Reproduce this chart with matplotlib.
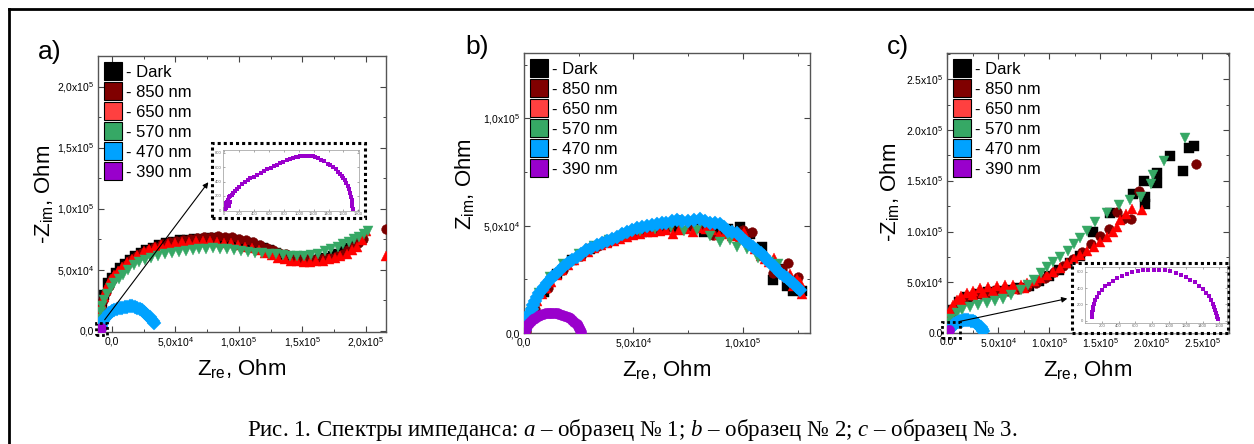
import numpy as np
import matplotlib
matplotlib.use('Agg')
import matplotlib.pyplot as plt
from matplotlib.lines import Line2D
from matplotlib.patches import Rectangle, FancyArrowPatch
from matplotlib.ticker import MultipleLocator, FuncFormatter

plt.rcParams['font.family'] = ['Liberation Sans', 'DejaVu Sans']
plt.rcParams['mathtext.fontset'] = 'custom'
plt.rcParams['mathtext.rm'] = 'Liberation Sans'
plt.rcParams['mathtext.it'] = 'Liberation Serif:italic'

W, H = 1254, 444

# ---- data (x, y in units of 1e4 Ohm) ----
series = ['- Dark', '- 850 nm', '- 650 nm', '- 570 nm', '- 470 nm', '- 390 nm']
colors = ['#000000', '#7a0000', '#ff0000', '#36a865', '#00a2ff', '#9a00cc']
legend_colors = ['#000000', '#800000', '#ff4040', '#36a865', '#00a2ff', '#9900cc']
markers = ['s', 'o', '^', 'v', 'D', 'o']

# panel a
a_dark_x = [-0.95, -0.8, -0.6, -0.3, 0.0, 0.3, 0.65, 1.0, 1.4, 1.8, 2.25, 2.7, 3.2, 3.7, 4.25, 4.8, 5.35, 5.9, 6.45, 7.0,
            7.55, 8.1, 8.65, 9.2, 9.75, 10.3, 10.85, 11.4, 11.9, 12.4, 12.9, 13.4, 13.9, 14.4, 14.9, 15.4, 15.9, 16.4, 16.9,
            17.4, 17.85, 18.3, 18.7, 19.1, 19.4, 19.7]
a_dark_y = [1.6, 2.3, 2.9, 3.9, 4.3, 4.7, 5.1, 5.5, 5.8, 6.1, 6.35, 6.6, 6.8, 7.0, 7.15, 7.3, 7.4, 7.45, 7.5, 7.55,
            7.58, 7.6, 7.55, 7.5, 7.4, 7.3, 7.15, 6.95, 6.8, 6.6, 6.4, 6.2, 6.05, 5.9, 5.85, 5.8, 5.8, 5.85, 5.95,
            6.1, 6.3, 6.5, 6.8, 7.1, 7.35, 7.6]
a_850_x = [-0.9, -0.7, -0.5, -0.25, 0.0, 0.35, 0.7, 1.1, 1.5, 1.95, 2.4, 2.9, 3.4, 3.95, 4.5, 5.05, 5.6, 6.15, 6.7, 7.25,
           7.8, 8.35, 8.9, 9.45, 10.0, 10.55, 11.1, 11.65, 12.2, 12.7, 13.2, 13.7, 14.2, 14.7, 15.2, 15.7, 16.2, 16.7, 17.2,
           17.7, 18.2, 18.6, 19.0, 19.4, 19.8, 21.6]
a_850_y = [1.8, 2.5, 3.2, 3.7, 4.2, 4.6, 5.0, 5.4, 5.8, 6.1, 6.4, 6.65, 6.9, 7.1, 7.25, 7.35, 7.45, 7.55, 7.6, 7.65,
           7.7, 7.72, 7.7, 7.65, 7.55, 7.4, 7.25, 7.05, 6.8, 6.6, 6.4, 6.25, 6.1, 6.0, 5.95, 5.9, 5.9, 5.95, 6.0,
           6.15, 6.3, 6.6, 6.9, 7.2, 7.5, 8.3]
a_650_x = [-1.0, -0.9, -0.8, -0.65, -0.5, -0.3, -0.1, 0.2, 0.5, 0.8, 1.2, 1.6, 2.0, 2.5, 2.9, 3.4, 3.9, 4.4, 5.0, 5.5,
           6.1, 6.6, 7.2, 7.7, 8.3, 8.8, 9.4, 9.9, 10.5, 11.0, 11.6, 12.1, 12.6, 13.1, 13.6, 14.1, 14.6, 15.1, 15.6, 16.1,
           16.6, 17.1, 17.6, 18.0, 18.5, 18.9, 19.3, 19.7, 20.05, 21.6]
a_650_y = [1.2, 1.7, 2.2, 2.8, 3.3, 3.8, 4.2, 4.6, 4.9, 5.25, 5.6, 5.9, 6.2, 6.5, 6.7, 6.85, 7.0, 7.1, 7.2, 7.25,
           7.3, 7.32, 7.35, 7.33, 7.3, 7.22, 7.15, 7.05, 6.9, 6.75, 6.6, 6.4, 6.2, 6.0, 5.85, 5.75, 5.7, 5.65, 5.65, 5.7,
           5.75, 5.85, 5.95, 6.1, 6.3, 6.6, 6.9, 7.4, 8.2, 6.1]
a_570_x = [-1.0, -0.9, -0.8, -0.6, -0.4, -0.1, 0.2, 0.55, 0.9, 1.3, 1.7, 2.15, 2.6, 3.1, 3.6, 4.15, 4.7, 5.25, 5.8, 6.35,
           6.9, 7.45, 8.0, 8.55, 9.1, 9.65, 10.2, 10.75, 11.3, 11.85, 12.4, 12.95, 13.5, 14.05, 14.6, 15.15, 15.7, 16.25,
           16.8, 17.3, 17.8, 18.25, 18.7, 19.1, 19.5, 19.85, 20.2]
a_570_y = [1.0, 1.5, 2.0, 2.5, 3.0, 3.5, 3.9, 4.25, 4.6, 5.0, 5.4, 5.6, 5.8, 5.95, 6.1, 6.25, 6.35, 6.45, 6.55, 6.62,
           6.7, 6.72, 6.75, 6.73, 6.7, 6.62, 6.55, 6.48, 6.4, 6.35, 6.3, 6.25, 6.2, 6.15, 6.15, 6.15, 6.2, 6.3,
           6.5, 6.7, 6.9, 7.1, 7.3, 7.5, 7.7, 7.95, 8.2]
a_470_x = [-0.85, -0.78, -0.7, -0.6, -0.5, -0.35, -0.2, 0.0, 0.2, 0.4, 0.6, 0.8, 1.0, 1.2, 1.4, 1.6, 1.8, 2.0, 2.2, 2.4,
           2.55, 2.7, 2.85, 3.0, 3.1, 3.2, 3.3]
a_470_y = [0.4, 0.6, 0.8, 0.98, 1.15, 1.3, 1.45, 1.58, 1.7, 1.78, 1.85, 1.9, 1.95, 1.98, 2.0, 1.99, 1.95, 1.88, 1.8, 1.68,
           1.55, 1.4, 1.25, 1.1, 0.95, 0.8, 0.65]
a_390_x = [-0.95, -0.9]
a_390_y = [0.1, 0.25]

# panel b
b_dark_x = [0.1, 0.4, 0.9, 1.5, 2.2, 3.0, 3.8, 4.6, 5.4, 6.2, 7.0, 7.8, 8.2, 8.7, 9.3, 9.86, 10.3, 10.85, 11.38, 11.7, 12.0, 12.3, 12.68]
b_dark_y = [0.1, 1.0, 1.9, 2.75, 3.4, 3.9, 4.25, 4.5, 4.7, 4.8, 4.9, 5.0, 4.69, 4.9, 4.85, 4.95, 4.6, 4.02, 2.47, 3.0, 2.2, 1.95, 1.95]
b_850_x = [0.1, 0.5, 1.1, 1.8, 2.6, 3.4, 4.2, 5.0, 5.8, 6.6, 7.1, 7.6, 8.2, 8.65, 9.1, 9.6, 10.0, 10.4, 10.9, 11.38, 11.8, 12.07, 12.5]
b_850_y = [0.1, 1.1, 2.1, 2.95, 3.6, 4.05, 4.4, 4.65, 4.8, 4.95, 5.27, 5.0, 4.9, 4.58, 4.8, 4.7, 4.8, 4.7, 3.6, 2.78, 3.0, 3.25, 2.6]
b_650_x = [0.1, 0.2, 0.3, 0.45, 0.6, 0.8, 1.0, 1.25, 1.5, 1.75, 2.0, 2.3, 2.6, 2.9, 3.2, 3.5, 3.8, 4.1, 4.4, 4.7,
           5.0, 5.3, 5.6, 5.9, 6.2, 6.5, 6.8, 7.1, 7.4, 7.7, 8.0, 8.3, 8.6, 8.9, 9.2, 9.5, 9.8, 10.05, 10.3, 10.55,
           10.8, 11.0, 11.2, 11.4, 11.6, 11.8, 12.0, 12.15, 12.3, 12.45, 12.6, 12.7]
b_650_y = [0.1, 0.45, 0.8, 1.15, 1.5, 1.8, 2.1, 2.4, 2.7, 2.93, 3.15, 3.38, 3.6, 3.78, 3.95, 4.08, 4.2, 4.3, 4.4, 4.48,
           4.55, 4.63, 4.7, 4.72, 4.75, 4.78, 4.6, 4.82, 4.85, 4.7, 4.9, 4.85, 4.8, 4.55, 4.6, 4.5, 4.4, 4.7, 4.25, 3.9,
           3.6, 3.45, 3.3, 3.5, 3.0, 2.8, 2.6, 2.75, 2.2, 2.5, 2.4, 1.8]
b_570_x = [0.05, 0.3, 0.7, 1.2, 1.8, 2.5, 3.2, 3.9, 4.6, 5.3, 6.0, 6.7, 7.3, 7.9, 8.5, 8.95, 9.4, 9.71, 10.2, 10.7, 11.2, 11.6]
b_570_y = [0.2, 1.0, 1.85, 2.6, 3.2, 3.7, 4.05, 4.35, 4.6, 4.75, 4.85, 4.95, 4.75, 4.8, 4.5, 4.25, 4.35, 4.02, 3.9, 3.5, 3.3, 3.2]
b_470_x = [0.05, 0.1, 0.15, 0.2, 0.27, 0.35, 0.42, 0.5, 0.58, 0.68, 0.8, 0.92, 1.04, 1.17, 1.3, 1.47, 1.64, 1.82, 2.0, 2.2,
           2.4, 2.62, 2.85, 3.08, 3.32, 3.56, 3.8, 4.0, 4.23, 4.46, 4.7, 4.92, 5.14, 5.37, 5.6, 5.83, 6.06, 6.28, 6.5, 6.74,
           6.97, 7.23, 7.5, 7.77, 8.04, 8.27, 8.5, 8.72, 8.95, 9.12, 9.3, 9.5, 9.71, 9.9, 10.1, 10.28, 10.47, 10.63, 10.8,
           10.94, 11.08, 11.24, 11.4, 11.55, 11.69, 11.85, 12.0, 12.15, 12.3, 12.45, 12.6]
b_470_y = [0.14, 0.3, 0.5, 0.7, 0.92, 1.1, 1.3, 1.5, 1.69, 1.85, 2.0, 2.16, 2.32, 2.46, 2.6, 2.77, 2.94, 3.1, 3.25, 3.4,
           3.56, 3.7, 3.85, 3.98, 4.1, 4.2, 4.3, 4.4, 4.49, 4.6, 4.7, 4.79, 4.88, 4.94, 5.0, 5.04, 5.08, 5.12, 5.15, 5.21,
           5.27, 5.24, 5.2, 5.25, 5.3, 5.22, 5.15, 5.12, 5.08, 4.92, 4.75, 4.7, 4.64, 4.47, 4.3, 4.16, 4.02, 3.88, 3.75,
           3.58, 3.4, 3.25, 3.1, 2.94, 2.78, 2.66, 2.55, 2.44, 2.32, 2.16, 2.0]
b_390_x = [0.05, 0.1, 0.15, 0.22, 0.3, 0.4, 0.5, 0.62, 0.75, 0.88, 1.0, 1.12, 1.25, 1.38, 1.5, 1.62, 1.75, 1.88, 2.0, 2.1,
           2.2, 2.3, 2.4, 2.47, 2.52, 2.57, 2.6]
b_390_y = [0.1, 0.22, 0.35, 0.45, 0.55, 0.64, 0.72, 0.79, 0.85, 0.89, 0.92, 0.93, 0.94, 0.93, 0.92, 0.89, 0.85, 0.8, 0.75,
           0.68, 0.6, 0.51, 0.42, 0.32, 0.22, 0.13, 0.05]

# panel c
c_dark_x = [0.05, 0.5, 1.2, 2.0, 3.0, 4.0, 5.0, 6.0, 7.0, 8.0, 9.0, 10.0, 11.0, 12.0, 13.0, 14.3, 15.97, 18.2, 19.3, 19.4, 19.4,
            20.6, 20.6, 21.8, 23.1, 23.7, 24.2]
c_dark_y = [1.0, 2.3, 3.1, 3.55, 3.85, 4.0, 4.15, 4.25, 4.4, 4.65, 5.1, 5.6, 6.2, 6.9, 7.6, 9.97, 11.84, 13.7, 15.0, 13.4, 12.7,
            14.8, 15.8, 17.4, 16.0, 18.2, 18.4]
c_850_x = [0.05, 0.4, 0.9, 1.6, 2.4, 3.3, 4.2, 5.1, 6.0, 6.9, 7.8, 8.7, 9.6, 10.5, 11.4, 12.3, 13.2, 14.1, 15.0, 15.9, 16.6,
           17.2, 18.0, 18.8, 24.4]
c_850_y = [0.9, 2.0, 2.8, 3.3, 3.6, 3.8, 3.95, 4.05, 4.15, 4.3, 4.5, 4.9, 5.4, 6.0, 6.6, 7.3, 8.0, 8.8, 9.6, 10.3, 11.9,
           11.2, 11.2, 14.0, 16.7]
c_650_x = [0.03, 0.15, 0.29, 0.6, 0.95, 1.4, 1.93, 2.5, 3.23, 4.0, 4.87, 5.7, 6.5, 7.2, 7.81, 8.5, 9.11, 9.8, 10.42, 11.1,
           11.73, 12.4, 13.03, 13.7, 14.34, 15.0, 15.65, 16.2, 16.63, 16.95, 17.5, 18.1, 19.08,
           1.5, 2.5, 3.5, 4.5, 5.5, 6.5, 7.5]
c_650_y = [1.11, 1.7, 2.26, 2.8, 3.25, 3.6, 3.9, 4.15, 4.4, 4.5, 4.62, 4.7, 4.72, 4.75, 4.89, 5.1, 5.38, 5.7, 6.03, 6.45,
           6.86, 7.25, 7.68, 8.1, 8.5, 8.95, 9.48, 10.0, 10.46, 11.12, 11.7, 12.27, 12.17,
           3.2, 3.7, 3.95, 4.1, 4.2, 4.3, 4.45]
c_570_x = [0.05, 0.13, 0.4, 0.95, 1.5, 2.25, 3.0, 3.9, 4.7, 5.5, 6.3, 7.2, 7.9, 8.5, 9.2, 9.8, 10.4, 11.1, 11.8, 12.4, 13.0,
           13.7, 14.5, 15.7, 16.8, 17.9, 19.0, 19.96, 20.2, 21.2, 23.3]
c_570_y = [0.5, 0.95, 1.4, 1.94, 2.3, 2.59, 2.8, 2.92, 3.15, 3.4, 3.7, 4.23, 4.7, 5.2, 5.9, 6.5, 7.0, 7.5, 8.1, 8.8, 9.4,
           10.1, 10.95, 11.8, 12.6, 13.1, 13.4, 14.66, 15.55, 16.95, 19.26]
c_470_x = [0.2, 0.35, 0.5, 0.7, 0.9, 1.1, 1.3, 1.5, 1.7, 1.9, 2.1, 2.3, 2.5, 2.7, 2.85, 3.0, 3.15, 3.3, 3.4, 3.5]
c_470_y = [0.3, 0.5, 0.7, 0.85, 0.95, 1.05, 1.15, 1.2, 1.25, 1.27, 1.25, 1.2, 1.15, 1.05, 0.95, 0.83, 0.7, 0.55, 0.4, 0.2]
c_390_x = [0.1, 0.2]
c_390_y = [0.1, 0.25]

# insets (Ohm)
ins_a_x = [10, 15, 20, 25, 30, 40, 50, 55, 60, 70, 80, 100, 120, 140, 170, 200, 235, 270, 310, 350, 395, 440, 485, 530, 575,
           620, 660, 700, 745, 790, 835, 880, 920, 960, 990, 1020, 1055, 1090, 1125, 1160, 1190, 1220, 1260, 1300, 1345,
           1390, 1425, 1460, 1495, 1530, 1555, 1580, 1600, 1620, 1640, 1660, 1680, 1695, 1705, 1712, 1718, 1722, 1725]
ins_a_y = [20, 60, 100, 30, 80, 120, 150, 60, 180, 110, 200, 215, 240, 270, 300, 330, 360, 390, 420, 445, 470, 495, 520, 545,
           570, 595, 615, 635, 655, 675, 695, 715, 728, 740, 748, 755, 758, 762, 760, 757, 750, 740, 725, 705, 680, 650,
           625, 600, 570, 540, 510, 480, 450, 420, 380, 340, 290, 240, 190, 150, 100, 60, 15]
ins_c_x = [80, 82, 85, 90, 95, 105, 120, 140, 170, 200, 240, 285, 330, 385, 440, 500, 560, 625, 690, 755, 820, 885, 950,
           1015, 1080, 1140, 1200, 1255, 1310, 1355, 1400, 1440, 1470, 1500, 1520, 1540, 1550, 1560, 1570, 1575, 1580]
ins_c_y = [40, 70, 100, 135, 170, 210, 250, 295, 340, 380, 420, 455, 490, 520, 550, 575, 595, 610, 620, 625, 625, 622, 618,
           605, 590, 565, 540, 505, 470, 430, 390, 345, 300, 255, 210, 170, 130, 95, 60, 40, 20]

panels = {
    'a': [(a_dark_x, a_dark_y), (a_850_x, a_850_y), (a_650_x, a_650_y), (a_570_x, a_570_y), (a_470_x, a_470_y), (a_390_x, a_390_y)],
    'b': [(b_dark_x, b_dark_y), (b_850_x, b_850_y), (b_650_x, b_650_y), (b_570_x, b_570_y), (b_470_x, b_470_y), (b_390_x, b_390_y)],
    'c': [(c_dark_x, c_dark_y), (c_850_x, c_850_y), (c_650_x, c_650_y), (c_570_x, c_570_y), (c_470_x, c_470_y), (c_390_x, c_390_y)],
}


def fbox(x0, y0, x1, y1):
    # pixel box (top-left origin) -> figure coords [l, b, w, h]
    return [x0 / W, 1 - y1 / H, (x1 - x0) / W, (y1 - y0) / H]


def fpt(x, y):
    return (x / W, 1 - y / H)


def sci(sep):
    def f(v, pos):
        if abs(v) < 1:
            return '0' + sep + '0'
        e = int(np.floor(np.log10(abs(v)) + 1e-9))
        m = ('%.1f' % (v / 10 ** e)).replace('.', sep)
        return m + r'x10$^{\mathregular{%d}}$' % e
    return f


fig = plt.figure(figsize=(W / 100, H / 100), dpi=100)

cfg = {
    'a': dict(box=(98, 56, 386, 332), xlim=(-1.1e4, 2.16e5), ylim=(-1e3, 2.25e5), sep=',',
              ylab='-Z$_{\\mathregular{im}}$, Ohm', ylx=-0.151, yly=0.5, xly=-0.089, letter=(38, 52)),
    'b': dict(box=(524, 53, 810, 333), xlim=(0, 1.306e5), ylim=(0, 1.305e5), sep=',',
              ylab='Z$_{\\mathregular{im}}$, Ohm', ylx=-0.168, yly=0.532, xly=-0.0875, letter=(465, 47)),
    'c': dict(box=(947, 53, 1229, 333), xlim=(0, 2.76e5), ylim=(0, 2.76e5), sep='.',
              ylab='-Z$_{\\mathregular{im}}$, Ohm', ylx=-0.163, yly=0.501, xly=-0.0875, letter=(887, 47)),
}

for key in ['a', 'b', 'c']:
    c = cfg[key]
    ax = fig.add_axes(fbox(*c['box']))
    for i, (xs, ys) in enumerate(panels[key]):
        ms = 7 if i < 5 else 7.5
        ax.plot(np.array(xs) * 1e4, np.array(ys) * 1e4, ls='none', marker=markers[i],
                ms=ms, color=colors[i], mec=colors[i], mew=0.3, zorder=2 + i)
    ax.set_xlim(*c['xlim'])
    ax.set_ylim(*c['ylim'])
    for axis in (ax.xaxis, ax.yaxis):
        axis.set_major_locator(MultipleLocator(5e4))
        axis.set_minor_locator(MultipleLocator(2.5e4))
        axis.set_major_formatter(FuncFormatter(sci(c['sep'])))
    ax.tick_params(which='both', direction='in', top=True, right=True, labelsize=7.5,
                   color='#444444', pad=3)
    ax.tick_params(which='major', length=4, width=0.8)
    ax.tick_params(which='minor', length=2.5, width=0.7)
    for s in ax.spines.values():
        s.set_color('#555555')
        s.set_linewidth(1.0)
    ax.set_xlabel('Z$_{\\mathregular{re}}$, Ohm', fontsize=16)
    ax.set_ylabel(c['ylab'], fontsize=16)
    ax.xaxis.set_label_coords(0.5, c['xly'])
    ax.yaxis.set_label_coords(c['ylx'], c['yly'])
    handles = [Line2D([], [], ls='none', marker='s', ms=13, mfc=legend_colors[i],
                      mec='black', mew=0.8) for i in range(6)]
    ax.legend(handles, series, loc='upper left', bbox_to_anchor=(0.005, 0.985), frameon=False,
              fontsize=12, handlelength=1.05, handletextpad=0.25, labelspacing=0.3,
              borderpad=0.3, borderaxespad=0)
    fig.text(c['letter'][0] / W, 1 - c['letter'][1] / H, key + ')', fontsize=19, va='center')


def inset(box_out, box_in, xs, ys, xlim, ylim, xt, yt):
    fig.add_artist(Rectangle(fpt(box_out[0], box_out[3]), (box_out[2] - box_out[0]) / W,
                             (box_out[3] - box_out[1]) / H, transform=fig.transFigure,
                             fill=True, fc='white', ec='black', lw=2.2, ls=(0, (1, 1)), zorder=20))
    ia = fig.add_axes(fbox(*box_in), zorder=21)
    ia.plot(xs, ys, ls='none', marker='s', ms=2.8, color='#9a00cc', mew=0)
    ia.set_xlim(*xlim)
    ia.set_ylim(*ylim)
    ia.set_xticks(xt)
    ia.set_yticks(yt)
    ia.tick_params(direction='in', length=1.5, width=0.4, labelsize=3, pad=1,
                   colors='#666666', top=True, right=True)
    for s in ia.spines.values():
        s.set_color('#999999')
        s.set_linewidth(0.5)


inset((212, 143, 365, 218), (223, 150, 359, 211), ins_a_x, ins_a_y, (-20, 1810), (-10, 840),
      range(0, 1801, 200), range(0, 801, 200))
inset((1072, 263, 1228, 333), (1085, 267, 1227, 323), ins_c_x, ins_c_y, (0, 1690), (-30, 660),
      range(200, 1601, 200), range(0, 601, 200))

# small dotted boxes at origin + arrows
for bx in [(96, 323, 107, 335), (942, 322, 960, 338)]:
    fig.add_artist(Rectangle(fpt(bx[0], bx[3]), (bx[2] - bx[0]) / W, (bx[3] - bx[1]) / H,
                             transform=fig.transFigure, fill=False, ec='black', lw=2,
                             ls=(0, (1, 1)), zorder=20))
for (p0, p1) in [((103, 322), (210, 180)), ((957, 322), (1070, 298))]:
    fig.add_artist(FancyArrowPatch(fpt(*p0), fpt(*p1), transform=fig.transFigure,
                                   arrowstyle='-|>', mutation_scale=8, lw=0.8,
                                   color='black', zorder=22))

# outer frame
fig.add_artist(Line2D([9 / W, 1.0], [1 - 9 / H, 1 - 9 / H], transform=fig.transFigure,
                      color='black', lw=2))
fig.add_artist(Line2D([9 / W, 9 / W], [0, 1 - 9 / H], transform=fig.transFigure,
                      color='black', lw=2))

fig.text(632 / W, 1 - 430 / H,
         'Рис. 1. Спектры импеданса: $\\mathit{a}$ – образец № 1; $\\mathit{b}$ – образец № 2; '
         '$\\mathit{c}$ – образец № 3.',
         family='Liberation Serif', fontsize=16.5, ha='center', va='center')

fig.savefig('out.png', dpi=100)
